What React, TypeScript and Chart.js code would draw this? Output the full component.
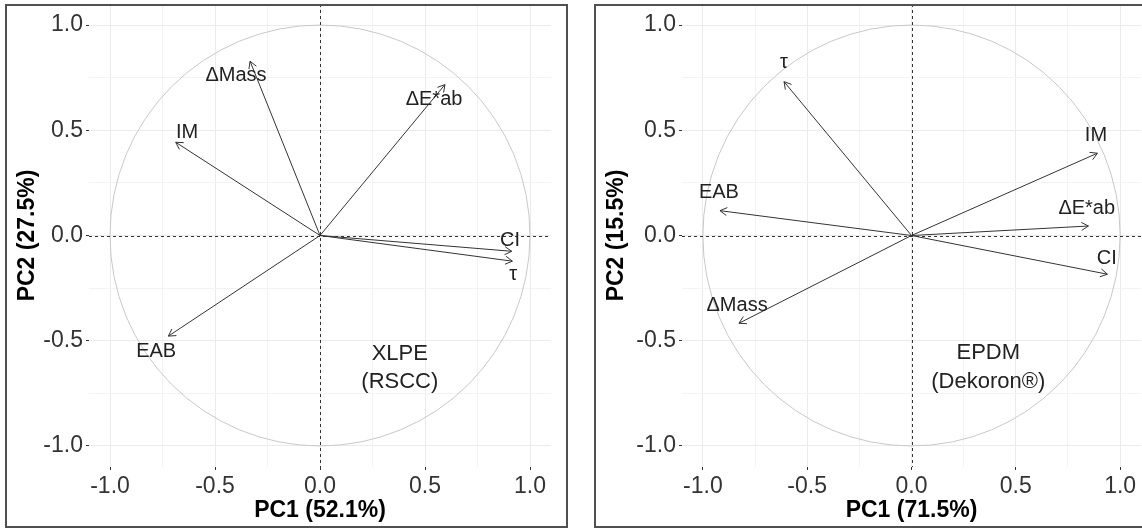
import React, { useEffect, useRef } from 'react';
import { Chart, registerables } from 'chart.js';

Chart.register(...registerables);

const FONT = '"Liberation Sans", Arial, Helvetica, sans-serif';

// shared axis ticks
const majorTicks = [-1, -0.5, 0, 0.5, 1];
const minorTicks = [-0.75, -0.25, 0.25, 0.75];
const axisMin = -1.1;
const axisMax = 1.1;

// Left panel: XLPE (RSCC)
const xlpeXTitle = 'PC1 (52.1%)';
const xlpeYTitle = 'PC2 (27.5%)';
const xlpeVariables = ['ΔMass', 'IM', 'ΔE*ab', 'CI', 'τ', 'EAB'];
const xlpePC1 = [-0.333, -0.687, 0.595, 0.913, 0.916, -0.722];
const xlpePC2 = [0.828, 0.443, 0.717, -0.075, -0.122, -0.478];
const xlpeLabelPC1 = [-0.40, -0.633, 0.543, 0.905, 0.92, -0.78];
const xlpeLabelPC2 = [0.76, 0.49, 0.646, -0.026, -0.185, -0.553];
const xlpeNote = ['XLPE', '(RSCC)'];
const xlpeNotePC1 = [0.38, 0.38];
const xlpeNotePC2 = [-0.563, -0.696];

// Right panel: EPDM (Dekoron®)
const epdmXTitle = 'PC1 (71.5%)';
const epdmYTitle = 'PC2 (15.5%)';
const epdmVariables = ['τ', 'EAB', 'IM', 'ΔE*ab', 'CI', 'ΔMass'];
const epdmPC1 = [-0.611, -0.918, 0.891, 0.848, 0.939, -0.827];
const epdmPC2 = [0.731, 0.118, 0.391, 0.045, -0.184, -0.417];
const epdmLabelPC1 = [-0.611, -0.923, 0.884, 0.84, 0.936, -0.836];
const epdmLabelPC2 = [0.82, 0.204, 0.475, 0.13, -0.107, -0.333];
const epdmNote = ['EPDM', '(Dekoron®)'];
const epdmNotePC1 = [0.368, 0.368];
const epdmNotePC2 = [-0.56, -0.695];

type PanelSpec = {
  xTitle: string;
  yTitle: string;
  vars: string[];
  pc1: number[];
  pc2: number[];
  lx: number[];
  ly: number[];
  note: string[];
  nx: number[];
  ny: number[];
  yAxisWidth: number;
  padRight: number;
};

const isMajor = (v: number) => majorTicks.some((m) => Math.abs(m - v) < 1e-9);

function scaleConfig(title: string, horizontal: boolean, yAxisWidth: number) {
  return {
    type: 'linear',
    min: axisMin,
    max: axisMax,
    afterBuildTicks: (s: any) => {
      s.ticks = [...majorTicks, ...minorTicks].sort((a, b) => a - b).map((v) => ({ value: v }));
    },
    afterFit: (s: any) => {
      if (horizontal) s.height = 62;
      else s.width = yAxisWidth;
      s.paddingTop = 0;
      s.paddingBottom = 0;
      s.paddingLeft = 0;
      s.paddingRight = 0;
    },
    ticks: {
      autoSkip: false,
      maxRotation: 0,
      minRotation: 0,
      padding: 3,
      color: '#333333',
      font: { size: 23, family: FONT },
      callback: (v: any) => (isMajor(Number(v)) ? Number(v).toFixed(1) : ''),
    },
    grid: {
      color: (c: any) => (c.tick && isMajor(c.tick.value) ? '#ebebeb' : '#f3f3f3'),
      lineWidth: 1,
      drawTicks: true,
      tickLength: 3,
      tickWidth: 1,
      tickColor: (c: any) => (c.tick && isMajor(c.tick.value) ? '#333333' : 'rgba(0,0,0,0)'),
    },
    border: { display: false },
    title: {
      display: true,
      text: title,
      color: '#000000',
      font: { size: 23, weight: 'bold', family: FONT },
      padding: horizontal ? { top: 0, bottom: 5 } : { top: 7, bottom: 0 },
    },
  };
}

function makePlugin(spec: PanelSpec) {
  return {
    id: 'pcaDecor',
    beforeDatasetsDraw(chart: any) {
      const { ctx, chartArea } = chart;
      const x = chart.scales.x;
      const y = chart.scales.y;
      const cx = x.getPixelForValue(0);
      const cy = y.getPixelForValue(0);
      const rx = x.getPixelForValue(1) - cx;
      const ry = cy - y.getPixelForValue(1);
      ctx.save();
      ctx.beginPath();
      ctx.rect(chartArea.left, chartArea.top, chartArea.right - chartArea.left, chartArea.bottom - chartArea.top);
      ctx.clip();
      ctx.strokeStyle = '#c8c8c8';
      ctx.lineWidth = 1;
      ctx.beginPath();
      ctx.ellipse(cx, cy, rx, ry, 0, 0, Math.PI * 2);
      ctx.stroke();
      ctx.strokeStyle = '#333333';
      ctx.setLineDash([3, 3]);
      ctx.beginPath();
      ctx.moveTo(Math.round(cx) + 0.5, chartArea.top);
      ctx.lineTo(Math.round(cx) + 0.5, chartArea.bottom);
      ctx.moveTo(chartArea.left, Math.round(cy) + 0.5);
      ctx.lineTo(chartArea.right, Math.round(cy) + 0.5);
      ctx.stroke();
      ctx.restore();
    },
    afterDatasetsDraw(chart: any) {
      const { ctx } = chart;
      const x = chart.scales.x;
      const y = chart.scales.y;
      const ox = x.getPixelForValue(0);
      const oy = y.getPixelForValue(0);
      ctx.save();
      ctx.strokeStyle = '#333333';
      ctx.lineWidth = 1;
      spec.vars.forEach((_, i) => {
        const tx = x.getPixelForValue(spec.pc1[i]);
        const ty = y.getPixelForValue(spec.pc2[i]);
        const ang = Math.atan2(ty - oy, tx - ox);
        const len = 8;
        const a = Math.PI / 6;
        ctx.beginPath();
        ctx.moveTo(tx - len * Math.cos(ang - a), ty - len * Math.sin(ang - a));
        ctx.lineTo(tx, ty);
        ctx.lineTo(tx - len * Math.cos(ang + a), ty - len * Math.sin(ang + a));
        ctx.stroke();
      });
      ctx.fillStyle = '#222222';
      ctx.textAlign = 'center';
      ctx.textBaseline = 'middle';
      ctx.font = `20px ${FONT}`;
      spec.vars.forEach((name, i) => {
        ctx.fillText(name, x.getPixelForValue(spec.lx[i]), y.getPixelForValue(spec.ly[i]));
      });
      ctx.font = `22px ${FONT}`;
      spec.note.forEach((t, i) => {
        ctx.fillText(t, x.getPixelForValue(spec.nx[i]), y.getPixelForValue(spec.ny[i]));
      });
      ctx.restore();
    },
  };
}

function Panel({ spec, left, width }: { spec: PanelSpec; left: number; width: number }) {
  const ref = useRef<HTMLCanvasElement | null>(null);
  useEffect(() => {
    if (!ref.current) return;
    const datasets = spec.vars.map((name, i) => ({
      label: name,
      data: [
        { x: 0, y: 0 },
        { x: spec.pc1[i], y: spec.pc2[i] },
      ],
      showLine: true,
      borderColor: '#333333',
      borderWidth: 1,
      pointRadius: 0,
      fill: false,
    }));
    const chart = new Chart(ref.current, {
      type: 'scatter',
      data: { datasets },
      options: {
        animation: false,
        responsive: false,
        devicePixelRatio: 1,
        layout: { padding: { top: 4, right: spec.padRight, left: 0, bottom: 0 } },
        plugins: { legend: { display: false }, tooltip: { enabled: false } },
        scales: {
          x: scaleConfig(spec.xTitle, true, spec.yAxisWidth),
          y: scaleConfig(spec.yTitle, false, spec.yAxisWidth),
        },
      } as any,
      plugins: [makePlugin(spec)],
    });
    return () => chart.destroy();
  }, []);
  return (
    <canvas
      ref={ref}
      width={width}
      height={529}
      style={{ position: 'absolute', left, top: 0, width, height: 529 }}
    />
  );
}

const leftSpec: PanelSpec = {
  xTitle: xlpeXTitle,
  yTitle: xlpeYTitle,
  vars: xlpeVariables,
  pc1: xlpePC1,
  pc2: xlpePC2,
  lx: xlpeLabelPC1,
  ly: xlpeLabelPC2,
  note: xlpeNote,
  nx: xlpeNotePC1,
  ny: xlpeNotePC2,
  yAxisWidth: 82,
  padRight: 12,
};

const rightSpec: PanelSpec = {
  xTitle: epdmXTitle,
  yTitle: epdmYTitle,
  vars: epdmVariables,
  pc1: epdmPC1,
  pc2: epdmPC2,
  lx: epdmLabelPC1,
  ly: epdmLabelPC2,
  note: epdmNote,
  nx: epdmNotePC1,
  ny: epdmNotePC2,
  yAxisWidth: 86,
  padRight: 15,
};

export default function App() {
  return (
    <div
      style={{
        position: 'fixed',
        left: 0,
        top: 0,
        width: 1142,
        height: 529,
        overflow: 'hidden',
        background: '#ffffff',
      }}
    >
      <Panel spec={leftSpec} left={7} width={556} />
      <Panel spec={rightSpec} left={596} width={560} />
      <div
        style={{
          position: 'absolute',
          left: 5,
          top: 4,
          width: 563,
          height: 524,
          boxSizing: 'border-box',
          border: '2px solid #505050',
          pointerEvents: 'none',
        }}
      />
      <div
        style={{
          position: 'absolute',
          left: 594,
          top: 4,
          width: 600,
          height: 524,
          boxSizing: 'border-box',
          border: '2px solid #505050',
          pointerEvents: 'none',
        }}
      />
    </div>
  );
}
